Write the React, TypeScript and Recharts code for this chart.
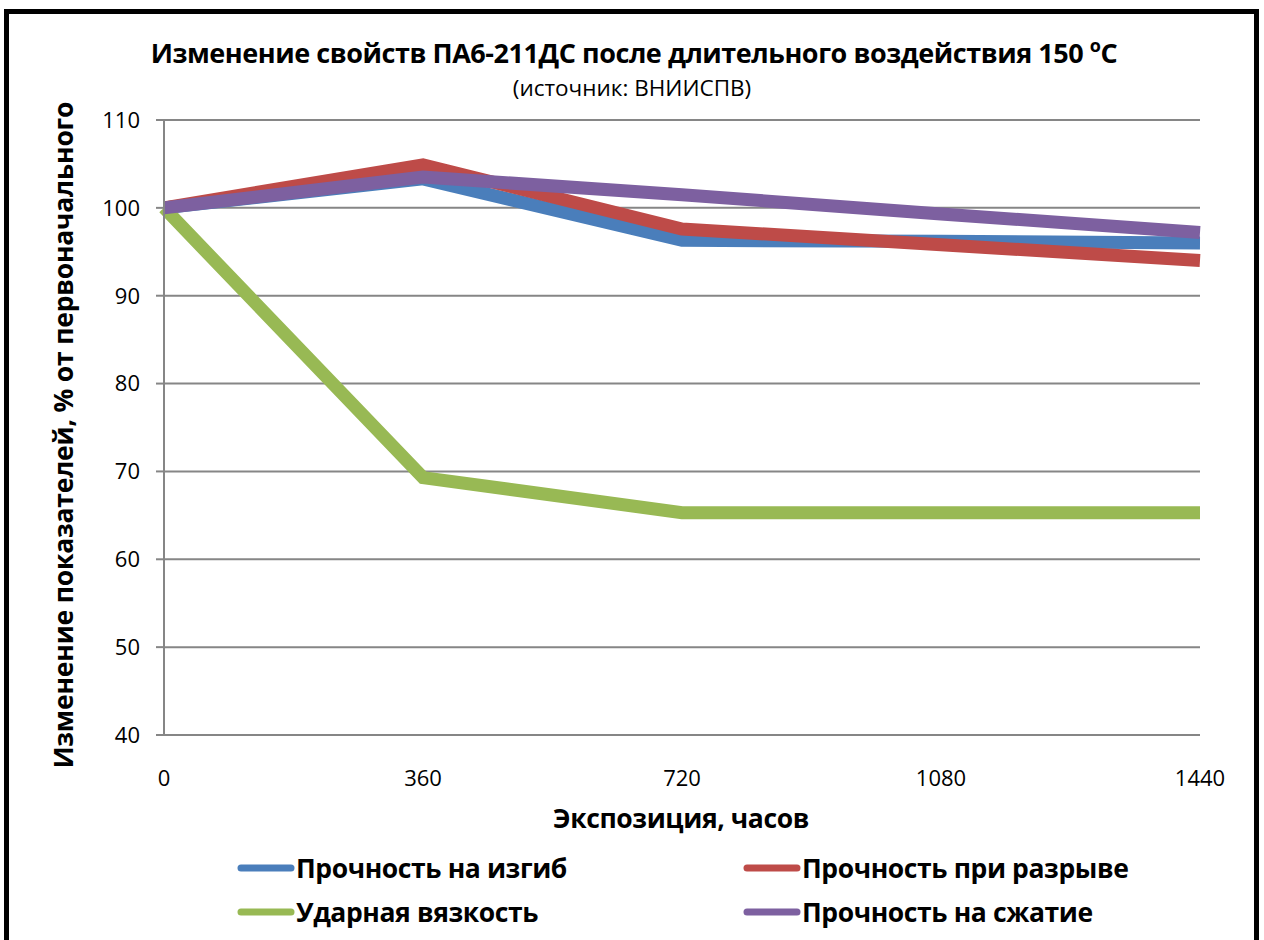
import React from "react";
import { LineChart, Line, XAxis, YAxis, CartesianGrid, Legend } from "recharts";

const hours = [0, 360, 720, 1080, 1440];
const bending = [100, 103.3, 96.3, 96.2, 96.0];
const tensile = [100, 104.9, 97.6, 95.8, 94.0];
const impact = [100, 69.3, 65.3, 65.3, 65.3];
const compression = [100, 103.5, 101.5, 99.3, 97.2];

const yTicks = [40, 50, 60, 70, 80, 90, 100, 110];
const xTicks = [0, 360, 720, 1080, 1440];

const seriesNames = [
  "Прочность на изгиб",
  "Прочность при разрыве",
  "Ударная вязкость",
  "Прочность на сжатие",
];
const seriesKeys = ["bending", "tensile", "impact", "compression"];
const seriesColors = ["#4A7EBB", "#BE4B48", "#98B954", "#7D60A0"];
const seriesValues = [bending, tensile, impact, compression];

const titleText = "Изменение свойств ПА6-211ДС после длительного воздействия 150 ";
const subtitleText = "(источник: ВНИИСПВ)";
const xTitle = "Экспозиция, часов";
const yTitle = "Изменение показателей, % от первоначального";

const data = hours.map((h, i) => {
  const row: Record<string, number> = { hours: h };
  seriesKeys.forEach((k, j) => {
    row[k] = seriesValues[j][i];
  });
  return row;
});

const FONT = "'Open Sans', 'Noto Sans', sans-serif";
const GRID = "#868686";

const renderLegend = (props: any) => {
  const { payload } = props;
  const colLeft = [237, 743];
  const rowTop = [0, 44];
  return (
    <div style={{ position: "relative", width: 1264, height: 90 }}>
      {(payload || []).map((entry: any, k: number) => {
        const idx = seriesNames.indexOf(entry.value);
        const i = idx >= 0 ? idx : k;
        const col = i % 2;
        const row = Math.floor(i / 2);
        return (
          <div
            key={k}
            style={{
              position: "absolute",
              left: colLeft[col],
              top: rowTop[row],
              height: 36,
              display: "flex",
              alignItems: "center",
              whiteSpace: "nowrap",
            }}
          >
            <svg width={58} height={12} style={{ display: "block" }}>
              <line x1={4} y1={6} x2={54} y2={6} stroke={entry.color} strokeWidth={7} strokeLinecap="round" />
            </svg>
            <span
              style={{
                fontFamily: FONT,
                fontWeight: 700,
                fontSize: 26.5,
                color: "#000",
                marginLeft: 1,
                letterSpacing: -0.4,
              }}
            >
              {entry.value}
            </span>
          </div>
        );
      })}
    </div>
  );
};

export default function App() {
  return (
    <div
      style={{
        position: "fixed",
        left: 0,
        top: 0,
        width: 1264,
        height: 940,
        overflow: "hidden",
        background: "#fff",
      }}
    >
      <div
        style={{
          position: "absolute",
          left: 4,
          top: 9,
          width: 1255,
          height: 1000,
          border: "5px solid #000",
          boxSizing: "border-box",
        }}
      />
      <svg
        width={1264}
        height={940}
        style={{ position: "absolute", left: 0, top: 0 }}
      >
        <text
          x={634}
          y={63}
          textAnchor="middle"
          fontFamily={FONT}
          fontWeight={700}
          fontSize={27}
          fill="#000"
          letterSpacing={-0.45}
        >
          {titleText}
          <tspan fontSize={18} dy={-11}>o</tspan>
          <tspan dy={11}>C</tspan>
        </text>
        <text
          x={632}
          y={96}
          textAnchor="middle"
          fontFamily={FONT}
          fontSize={22.5}
          fill="#000"
          letterSpacing={0}
        >
          {subtitleText}
        </text>
        <text
          x={681}
          y={828}
          textAnchor="middle"
          fontFamily={FONT}
          fontWeight={700}
          fontSize={26.5}
          fill="#000"
          letterSpacing={-0.4}
        >
          {xTitle}
        </text>
        <text
          x={0}
          y={0}
          transform="translate(73,435) rotate(-90)"
          textAnchor="middle"
          fontFamily={FONT}
          fontWeight={700}
          fontSize={26.5}
          fill="#000"
          letterSpacing={-0.2}
        >
          {yTitle}
        </text>
      </svg>
      <div style={{ position: "absolute", left: 0, top: 0 }}>
        <LineChart
          width={1264}
          height={940}
          data={data}
          margin={{ top: 120, right: 64, left: 104, bottom: 55 }}
        >
          <CartesianGrid vertical={false} stroke={GRID} strokeWidth={2} />
          <XAxis
            dataKey="hours"
            type="number"
            domain={[0, 1440]}
            ticks={xTicks}
            height={60}
            axisLine={{ stroke: GRID, strokeWidth: 2 }}
            tickLine={false}
            tickSize={0}
            tickMargin={35}
            tick={{ fontFamily: FONT, fontSize: 22, fill: "#000" }}
          />
          <YAxis
            type="number"
            domain={[40, 110]}
            ticks={yTicks}
            width={60}
            interval={0}
            axisLine={{ stroke: GRID, strokeWidth: 2 }}
            tickLine={{ stroke: GRID, strokeWidth: 2 }}
            tickSize={8}
            tickMargin={16}
            tick={{ fontFamily: FONT, fontSize: 22, fill: "#000" }}
          />
          {seriesKeys.map((k, i) => (
            <Line
              key={k}
              dataKey={k}
              name={seriesNames[i]}
              stroke={seriesColors[i]}
              strokeWidth={13}
              strokeLinejoin="miter"
              strokeLinecap="butt"
              dot={false}
              activeDot={false}
              isAnimationActive={false}
            />
          ))}
          <Legend
            content={renderLegend}
            wrapperStyle={{ position: "absolute", left: 0, top: 850, width: 1264 }}
          />
        </LineChart>
      </div>
    </div>
  );
}
